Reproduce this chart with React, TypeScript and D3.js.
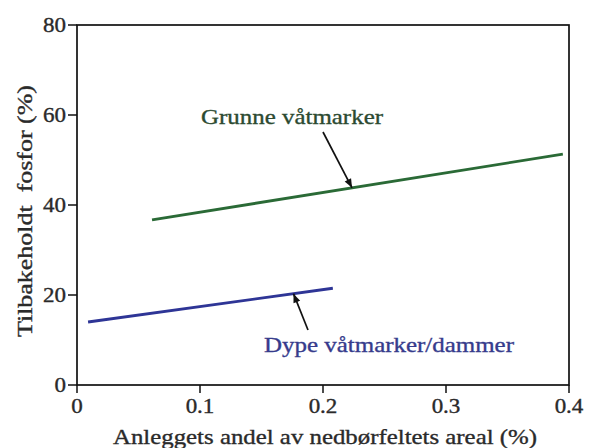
import React from "react";
import * as d3 from "d3";

const xTicks = [0, 0.1, 0.2, 0.3, 0.4];
const yTicks = [0, 20, 40, 60, 80];
const xTickLabels = ["0", "0.1", "0.2", "0.3", "0.4"];
const yTickLabels = ["0", "20", "40", "60", "80"];
const seriesNames = ["Grunne våtmarker", "Dype våtmarker/dammer"];
const grunneX = [0.061, 0.395];
const grunneY = [36.7, 51.3];
const dypeX = [0.009, 0.208];
const dypeY = [14.0, 21.5];
const xTitle = "Anleggets andel av nedbørfeltets areal (%)";
const yTitle = "Tilbakeholdt  fosfor (%)";

const W = 599, H = 448;
const L = 77, R = 569, T = 25, B = 385;
const FONT = "'Liberation Serif', 'Times New Roman', Times, serif";

export default function App() {
  const x = d3.scaleLinear().domain([0, 0.4]).range([L, R]);
  const y = d3.scaleLinear().domain([0, 80]).range([B, T]);
  const line = d3.line<[number, number]>().x((d) => x(d[0])).y((d) => y(d[1]));
  const g = grunneX.map((v, i) => [v, grunneY[i]] as [number, number]);
  const dp = dypeX.map((v, i) => [v, dypeY[i]] as [number, number]);
  const gColor = "#2a6a36";
  const bColor = "#2e3596";
  const txt = "#2a2a2a";
  const sw = 0.35;

  const gx = 0.2236;
  const gy = d3.scaleLinear().domain(grunneX).range(grunneY)(gx);
  const bx = 0.176;
  const by = d3.scaleLinear().domain(dypeX).range(dypeY)(bx);

  return (
    <svg width={W} height={H} style={{ position: "absolute", left: 0, top: 0, background: "#fff" }}>
      <defs>
        <marker id="ah" viewBox="0 0 10 10" refX="10" refY="5" markerWidth="10" markerHeight="9" markerUnits="userSpaceOnUse" orient="auto">
          <path d="M0,1 L10,5 L0,9 z" fill="#111" />
        </marker>
      </defs>
      <rect x={L} y={T} width={R - L} height={B - T} fill="none" stroke="#111" strokeWidth={1.7} />
      {yTicks.map((t, i) => (
        <g key={"y" + i}>
          <line x1={L - 9} x2={L} y1={y(t)} y2={y(t)} stroke="#111" strokeWidth={1.5} />
          <g transform={`translate(${L - 11},${y(t)}) scale(1.15,1)`}>
            <text x={0} y={0} dy="0.35em" textAnchor="end" fontFamily={FONT} fontSize={20} fill={txt} stroke={txt} strokeWidth={sw}>
              {yTickLabels[i]}
            </text>
          </g>
        </g>
      ))}
      {xTicks.map((t, i) => (
        <g key={"x" + i}>
          <line x1={x(t)} x2={x(t)} y1={B} y2={B + 8} stroke="#111" strokeWidth={1.5} />
          <g transform={`translate(${x(t)},413) scale(1.15,1)`}>
            <text x={0} y={0} textAnchor="middle" fontFamily={FONT} fontSize={20} fill={txt} stroke={txt} strokeWidth={sw}>
              {xTickLabels[i]}
            </text>
          </g>
        </g>
      ))}
      <text x={113} y={444} textLength={424} lengthAdjust="spacingAndGlyphs" fontFamily={FONT} fontSize={22} fill={txt} stroke={txt} strokeWidth={sw}>
        {xTitle}
      </text>
      <text transform={`translate(32,337) rotate(-90)`} textLength={252} lengthAdjust="spacingAndGlyphs" fontFamily={FONT} fontSize={22} fill={txt} stroke={txt} strokeWidth={sw} style={{ whiteSpace: "pre" }}>
        {yTitle}
      </text>
      <path d={line(g) || ""} fill="none" stroke={gColor} strokeWidth={2.8} />
      <path d={line(dp) || ""} fill="none" stroke={bColor} strokeWidth={2.8} />
      <text x={201} y={124} textLength={182} lengthAdjust="spacingAndGlyphs" fontFamily={FONT} fontSize={22} fill="#2c4a31" stroke="#2c4a31" strokeWidth={sw}>
        {seriesNames[0]}
      </text>
      <line x1={323} y1={132} x2={x(gx)} y2={y(gy)} stroke="#111" strokeWidth={1.7} markerEnd="url(#ah)" />
      <text x={264} y={352} textLength={250} lengthAdjust="spacingAndGlyphs" fontFamily={FONT} fontSize={22} fill="#363b8c" stroke="#363b8c" strokeWidth={sw}>
        {seriesNames[1]}
      </text>
      <line x1={308} y1={330} x2={x(bx)} y2={y(by)} stroke="#111" strokeWidth={1.7} markerEnd="url(#ah)" />
    </svg>
  );
}
